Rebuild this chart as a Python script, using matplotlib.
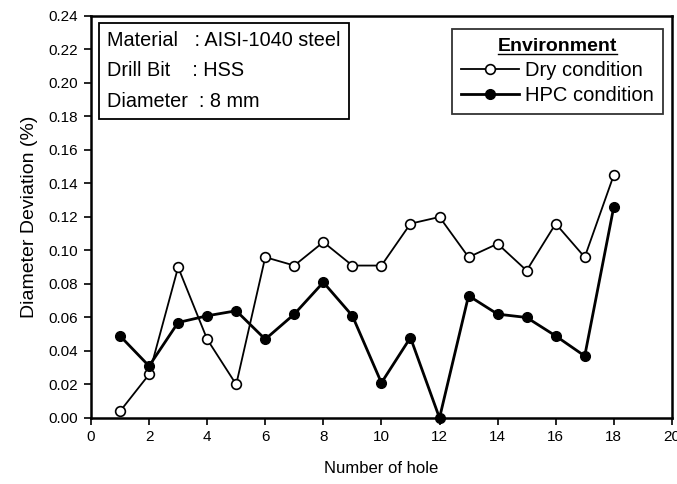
import matplotlib
matplotlib.use("Agg")
import matplotlib.pyplot as plt
from matplotlib.lines import Line2D
from matplotlib.ticker import MultipleLocator, FormatStrFormatter

plt.rcParams['font.family'] = ['Liberation Sans', 'DejaVu Sans']

holes = list(range(1, 19))
dry = [0.004, 0.026, 0.090, 0.047, 0.020, 0.096, 0.091, 0.105, 0.091, 0.091,
       0.116, 0.120, 0.096, 0.104, 0.088, 0.116, 0.096, 0.145]
hpc = [0.049, 0.031, 0.057, 0.061, 0.064, 0.047, 0.062, 0.081, 0.061, 0.021,
       0.048, 0.000, 0.073, 0.062, 0.060, 0.049, 0.037, 0.126]
x_label = "Number of hole"
y_label = "Diameter Deviation (%)"
info_lines = ["Material   : AISI-1040 steel", "Drill Bit    : HSS", "Diameter  : 8 mm"]
legend_title = "Environment"
series_names = ["Dry condition", "HPC condition"]

fig = plt.figure(figsize=(6.77, 4.84), dpi=100)
ax = fig.add_axes([0.1344, 0.1364, 0.858, 0.8306])

ax.plot(holes, dry, color='black', lw=1.3, marker='o', markersize=7,
        markerfacecolor='white', markeredgecolor='black', markeredgewidth=1.2,
        label=series_names[0], clip_on=False, zorder=3)
ax.plot(holes, hpc, color='black', lw=2.0, marker='o', markersize=7,
        markerfacecolor='black', markeredgecolor='black',
        label=series_names[1], clip_on=False, zorder=3)

ax.set_xlim(0, 20)
ax.set_ylim(0, 0.24)
ax.xaxis.set_major_locator(MultipleLocator(2))
ax.yaxis.set_major_locator(MultipleLocator(0.02))
ax.yaxis.set_major_formatter(FormatStrFormatter('%.2f'))
ax.tick_params(direction='out', length=5, width=1.2, labelsize=11, pad=4)
for s in ax.spines.values():
    s.set_linewidth(1.8)

ax.set_xlabel(x_label, fontsize=12, labelpad=12)
ax.set_ylabel(y_label, fontsize=14, labelpad=8)

ax.text(0.028, 0.962, "\n".join(info_lines), transform=ax.transAxes,
        fontsize=14.3, va='top', ha='left', linespacing=1.75,
        bbox=dict(boxstyle='square,pad=0.4', facecolor='white',
                  edgecolor='black', linewidth=1.3))

leg = ax.legend(loc='upper right', bbox_to_anchor=(0.9845, 0.9677),
                borderaxespad=0, title=legend_title, fontsize=14.5, frameon=True,
                fancybox=False, edgecolor='black', handlelength=2.9,
                borderpad=0.45, labelspacing=0.3, handletextpad=0.3)
leg.get_frame().set_linewidth(1.3)
leg.get_title().set_fontsize(14)
leg.get_title().set_fontweight('bold')

fig.canvas.draw()
bb = leg.get_title().get_window_extent()
inv = fig.transFigure.inverted()
(x0, y0), (x1, y1) = inv.transform([(bb.x0, bb.y0), (bb.x1, bb.y0)])
fig.add_artist(Line2D([x0, x1], [y0 + 0.002, y0 + 0.002], color='black', lw=1.0,
                      transform=fig.transFigure))

fig.savefig("out.png", dpi=100)
